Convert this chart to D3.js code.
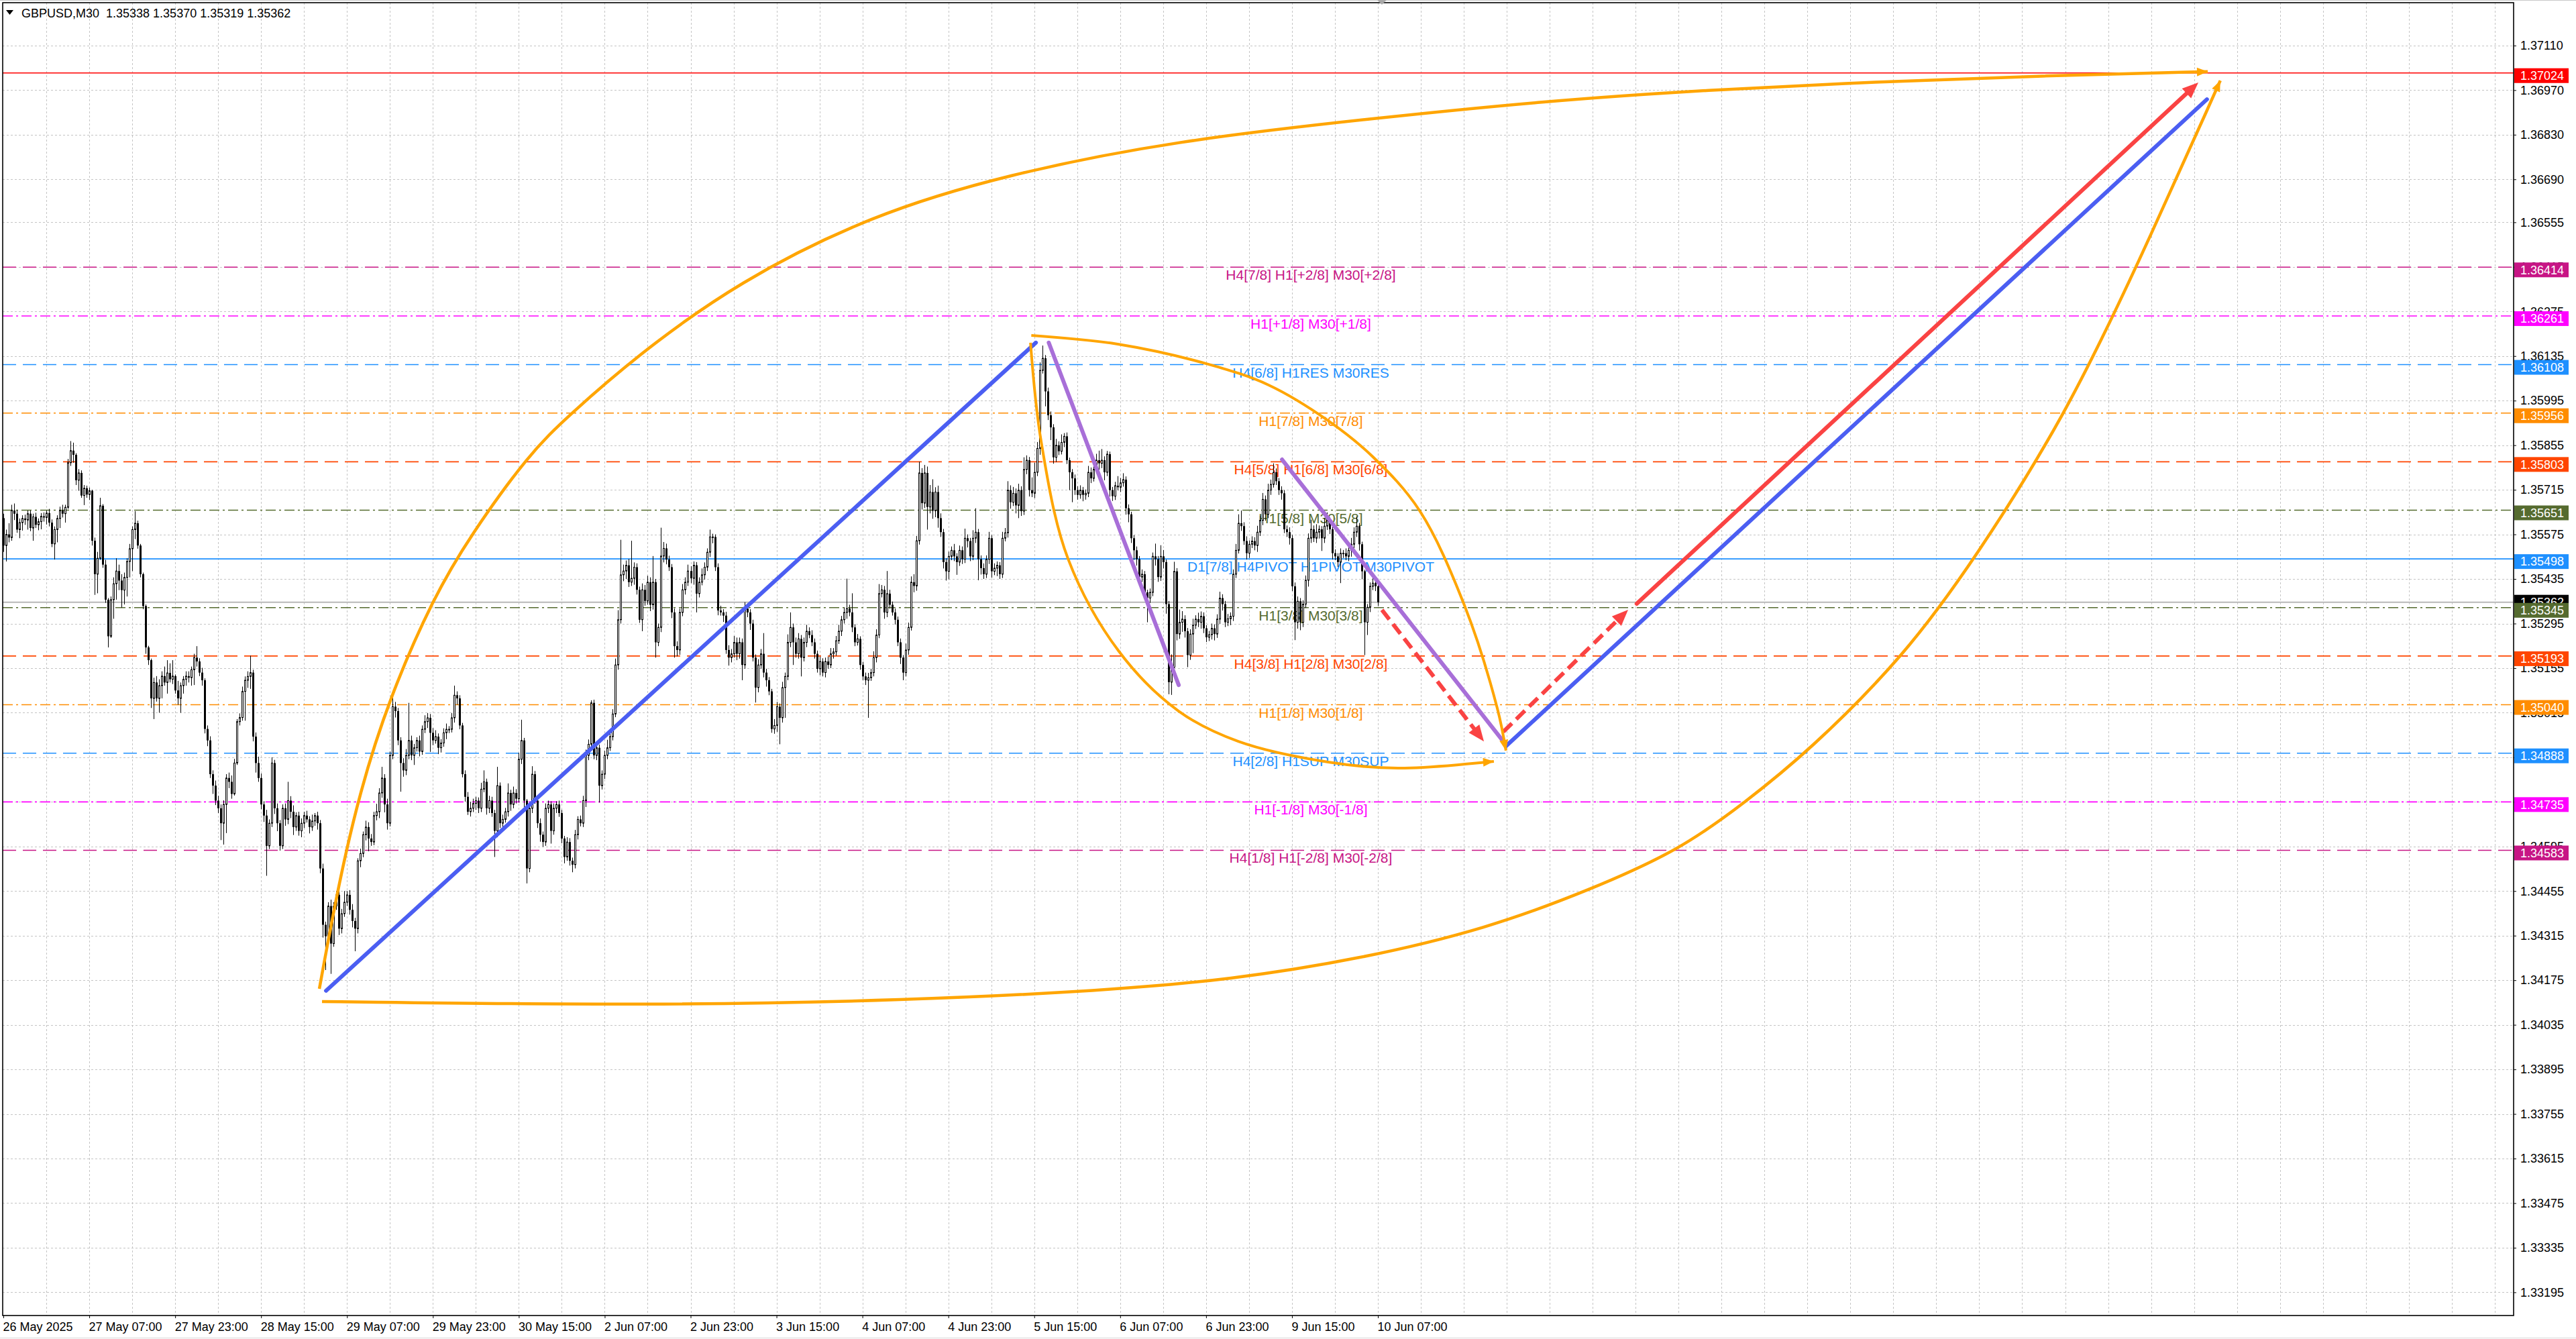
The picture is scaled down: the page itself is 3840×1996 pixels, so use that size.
<!DOCTYPE html>
<html>
<head>
<meta charset="utf-8">
<script src="https://cdn.jsdelivr.net/npm/d3@7"></script>
<style>
html,body{margin:0;padding:0;background:#fff;}
svg{display:block;}
text{font-family:"Liberation Sans",Arial,sans-serif;}
</style>
</head>
<body>
<script>
const WIDTH = 3840, HEIGHT = 1996;
const LEFT = 4, TOP = 4, RIGHT = 3747, BOTTOM = 1961;

// prices are kept in points (0.00001) above 1.3
const PRICE_BASE = 1.3, POINT = 0.00001;
const toPrice = v => PRICE_BASE + v * POINT;

const symbolTitle = 'GBPUSD,M30  1.35338 1.35370 1.35319 1.35362';
const lastPrice = 1.35362;
const firstOpen = 5626;

// M30 closes, one per bar (26 May 15:00 ... 10 Jun 07:00)
const closes = [
  5540,5575,5565,5650,5640,5590,5612,5625,5620,5640,5595,5630,5605,5615,5632,5628,
  5642,5612,5545,5590,5625,5650,5640,5660,5800,5838,5825,5745,5768,5697,5720,5700,
  5712,5555,5450,5500,5665,5480,5370,5255,5370,5420,5460,5430,5400,5440,5490,5530,
  5590,5610,5540,5450,5350,5220,5180,5060,5110,5060,5100,5130,5110,5140,5120,5130,
  5085,5060,5100,5120,5130,5125,5150,5188,5176,5141,5117,4964,4928,4822,4786,4739,
  4715,4668,4727,4810,4798,4760,4857,4987,5000,5082,5117,5129,5141,4940,4857,4810,
  4727,4692,4597,4668,4857,4715,4668,4597,4715,4680,4739,4704,4656,4692,4644,4668,
  4692,4680,4656,4675,4692,4668,4526,4349,4313,4408,4290,4408,4443,4337,4384,4420,
  4443,4396,4361,4337,4550,4573,4632,4656,4620,4609,4692,4704,4763,4810,4727,4668,
  4881,5034,5020,4928,4857,4834,4881,4928,4881,4905,4928,4893,4963,4987,4999,4952,
  4928,4940,4905,4920,4952,4963,4963,4999,5070,5060,4975,4822,4751,4704,4715,4730,
  4739,4715,4775,4798,4715,4739,4700,4644,4786,4668,4680,4704,4763,4727,4763,4745,
  4869,4928,4739,4526,4715,4822,4739,4668,4632,4609,4715,4727,4644,4715,4727,4700,
  4620,4562,4609,4550,4538,4632,4680,4668,4739,4881,4916,5046,4881,4905,4786,4822,
  4881,4905,4940,5011,5165,5307,5448,5460,5478,5425,5437,5472,5401,5307,5401,5366,
  5425,5354,5425,5236,5283,5507,5531,5496,5472,5330,5224,5212,5330,5401,5425,5460,
  5437,5478,5389,5425,5448,5472,5519,5567,5567,5472,5336,5330,5320,5212,5188,5200,
  5236,5200,5236,5165,5342,5330,5295,5188,5094,5165,5200,5141,5117,5082,4964,4975,
  5034,4999,5094,5129,5236,5283,5236,5200,5247,5188,5236,5271,5259,5236,5200,5153,
  5176,5141,5176,5165,5200,5206,5241,5271,5307,5330,5342,5330,5283,5236,5247,5165,
  5129,5117,5125,5141,5188,5259,5389,5401,5330,5389,5354,5330,5307,5236,5188,5141,
  5212,5283,5425,5413,5555,5768,5673,5768,5661,5708,5649,5708,5626,5582,5488,5459,
  5506,5525,5506,5488,5525,5497,5563,5554,5506,5563,5582,5497,5469,5450,5497,5563,
  5459,5469,5478,5450,5563,5580,5714,5676,5704,5666,5714,5648,5779,5808,5714,5704,
  5770,5845,6090,6128,6024,5949,5911,5817,5855,5836,5864,5883,5808,5770,5751,5714,
  5699,5714,5699,5704,5770,5751,5779,5808,5798,5808,5770,5827,5714,5695,5728,5723,
  5737,5747,5657,5638,5563,5525,5497,5441,5450,5393,5375,5393,5506,5497,5441,5506,
  5488,5356,5111,5158,5459,5262,5299,5309,5271,5196,5262,5290,5309,5299,5318,5280,
  5252,5260,5280,5262,5309,5375,5356,5299,5310,5318,5450,5525,5610,5601,5554,5516,
  5544,5554,5540,5582,5619,5685,5638,5714,5732,5770,5742,5714,5704,5591,5582,5563,
  5412,5299,5365,5299,5356,5431,5563,5591,5563,5582,5591,5563,5601,5619,5591,5516,
  5506,5488,5516,5516,5506,5525,5544,5582,5601,5544,5459,5299,5346,5412,5422,5412,
  5362
];

// upper and lower shadow length of each bar, in points
const wickUp = [
  14,15,35,18,22,12,13,10,12,10,10,10,13,10,10,12,
  8,13,10,10,10,12,18,8,12,30,25,5,12,8,10,8,
  10,3,10,20,25,5,15,5,10,20,40,20,20,15,10,15,
  10,38,8,5,5,5,5,5,15,20,20,15,30,40,30,50,
  5,30,10,10,15,15,10,12,36,10,15,6,11,13,12,16,
  15,12,13,12,17,20,13,8,13,15,12,16,53,9,13,20,
  14,10,18,12,18,10,15,10,12,15,59,14,20,10,12,15,
  12,15,10,20,8,12,10,15,10,12,20,12,12,20,15,35,
  12,15,18,10,8,15,10,20,15,14,12,25,15,35,12,18,
  12,36,15,10,10,15,20,118,15,12,10,15,12,20,15,12,
  15,20,10,12,14,18,10,15,30,12,10,8,12,15,20,15,
  12,10,20,36,10,15,12,10,59,10,15,12,30,10,20,12,
  20,65,8,5,10,25,10,12,15,10,15,12,10,15,10,12,
  10,8,15,12,10,15,10,12,15,18,15,8,10,20,10,12,
  15,25,12,15,20,30,110,20,15,20,118,15,12,10,20,15,
  20,15,82,10,12,89,20,15,12,10,12,15,12,18,15,20,
  15,12,10,15,20,15,12,23,10,8,12,15,10,12,15,15,
  20,15,15,12,20,15,10,12,10,18,15,65,12,10,8,20,
  15,10,18,12,25,47,12,15,18,12,15,20,12,15,12,10,
  15,10,12,15,18,12,15,20,12,15,94,12,60,10,15,8,
  10,12,15,12,20,18,30,15,12,71,12,10,12,10,12,8,
  20,15,18,25,15,35,15,25,20,22,40,15,20,15,10,12,
  15,12,20,10,15,12,30,12,10,25,75,10,12,15,12,20,
  10,15,12,10,20,15,28,15,20,15,20,12,38,15,10,40,
  30,20,25,40,10,12,12,10,20,12,25,10,12,8,10,12,
  12,15,10,12,20,15,25,20,30,35,12,10,8,10,12,30,
  15,20,10,12,8,10,12,10,15,10,8,12,12,40,10,35,
  20,8,10,40,30,10,40,25,12,10,15,20,12,20,15,12,
  10,12,15,12,15,20,12,10,15,12,15,20,28,40,12,15,
  12,15,12,20,15,20,12,20,15,28,12,10,12,10,12,15,
  10,12,15,10,12,15,15,30,12,25,12,10,25,25,10,8,
  12,10,15,10,15,12,20,15,30,10,8,5,10,12,20,15,
  10
];
const wickDn = [
  20,50,15,10,20,10,27,25,15,30,10,40,10,17,24,13,
  22,12,10,49,40,30,12,28,5,10,25,15,33,7,30,10,
  17,15,65,60,5,10,10,35,5,60,50,30,55,45,60,50,
  70,30,10,10,10,20,15,30,65,10,45,40,10,35,10,15,
  10,20,45,25,20,15,25,48,16,11,17,14,18,12,26,14,
  15,53,67,90,20,15,5,6,12,10,92,24,39,15,30,12,
  15,20,94,10,12,18,25,15,10,20,15,20,25,12,15,20,
  15,10,20,12,15,20,15,40,106,20,95,10,12,20,15,10,
  12,15,20,71,15,20,12,18,40,12,10,15,20,15,25,20,
  10,12,20,15,90,20,15,12,15,30,12,15,10,12,20,60,
  15,10,20,15,12,20,12,10,15,20,12,10,15,10,15,12,
  20,15,12,10,20,15,12,82,20,15,12,10,15,20,12,15,
  12,15,20,47,12,15,10,15,22,15,12,15,40,12,15,12,
  15,20,12,15,24,12,15,10,12,20,15,12,12,15,53,12,
  15,12,10,12,10,15,12,20,25,15,12,20,15,10,36,15,
  12,20,15,48,12,15,20,15,12,18,36,20,15,12,15,12,
  15,20,59,12,10,15,12,15,20,12,15,10,20,12,25,15,
  12,20,15,48,12,15,20,12,47,15,12,15,20,12,12,15,
  20,83,15,95,12,15,71,12,15,59,12,15,10,12,15,12,
  20,12,15,12,10,15,12,10,15,12,20,12,15,12,10,15,
  12,15,118,10,12,15,10,12,20,15,12,10,15,12,20,24,
  12,15,10,20,15,12,20,15,71,20,25,20,30,15,20,29,
  25,12,15,40,12,15,12,20,15,12,15,66,20,15,12,15,
  20,12,25,15,12,10,15,20,12,25,40,15,12,15,20,12,
  15,12,20,10,47,15,40,20,15,12,10,15,12,56,75,15,
  15,12,20,15,12,15,10,12,20,15,25,12,20,15,12,10,
  15,12,20,25,15,30,20,25,15,20,76,15,12,20,15,12,
  20,30,38,40,15,20,15,30,20,38,15,60,12,15,20,15,
  15,12,15,20,12,15,20,15,12,20,15,12,10,15,12,20,
  15,12,15,20,12,15,20,12,15,10,12,15,20,12,15,20,
  15,56,20,25,15,12,20,15,12,15,20,40,15,12,15,20,
  12,15,66,15,12,15,20,12,15,20,25,103,40,15,12,15,
  12
];

const priceTicks = [1.37110,1.36970,1.36830,1.36690,1.36555,1.36415,1.36275,1.36135,1.35995,1.35855,
  1.35715,1.35575,1.35435,1.35295,1.35155,1.35015,1.34875,1.34735,1.34595,1.34455,1.34315,1.34175,
  1.34035,1.33895,1.33755,1.33615,1.33475,1.33335,1.33195];

const timeLabels = ['26 May 2025','27 May 07:00','27 May 23:00','28 May 15:00','29 May 07:00','29 May 23:00',
  '30 May 15:00','2 Jun 07:00','2 Jun 23:00','3 Jun 15:00','4 Jun 07:00','4 Jun 23:00','5 Jun 15:00',
  '6 Jun 07:00','6 Jun 23:00','9 Jun 15:00','10 Jun 07:00'];
const timeLabelBars = [0,32,64,96,128,160,192,224,256,288,320,352,384,416,448,480,512];

// Murrey math levels
const levelPrices = [1.37024,1.36414,1.36261,1.36108,1.35956,1.35803,1.35651,1.35498,1.35345,1.35193,1.35040,1.34888,1.34735,1.34583];
const levelTexts = ['','H4[7/8] H1[+2/8] M30[+2/8]','H1[+1/8] M30[+1/8]','H4[6/8] H1RES M30RES','H1[7/8] M30[7/8]',
  'H4[5/8] H1[6/8] M30[6/8]','H1[5/8] M30[5/8]','D1[7/8] H4PIVOT H1PIVOT M30PIVOT','H1[3/8] M30[3/8]',
  'H4[3/8] H1[2/8] M30[2/8]','H1[1/8] M30[1/8]','H4[2/8] H1SUP M30SUP','H1[-1/8] M30[-1/8]','H4[1/8] H1[-2/8] M30[-2/8]'];
const levelStyles = [
  {c:'#ff0000',d:null},{c:'#c71585',d:'20,10'},{c:'#ff00ff',d:'15,5,3,5'},{c:'#1e90ff',d:'20,10'},
  {c:'#ff8c00',d:'15,5,3,5'},{c:'#ff4500',d:'20,10'},{c:'#556b2f',d:'15,5,3,5'},{c:'#1e90ff',d:null},
  {c:'#556b2f',d:'15,5,3,5'},{c:'#ff4500',d:'20,10'},{c:'#ff8c00',d:'15,5,3,5'},{c:'#1e90ff',d:'20,10'},
  {c:'#ff00ff',d:'15,5,3,5'},{c:'#c71585',d:'20,10'}];

// drawn objects: bar index (future bars beyond 512) and price
const blueLines = [
  [{i:120.2,p:1.34142},{i:384.6,p:1.36177}],
  [{i:559.7,p:1.34910},{i:820.8,p:1.36941}]
];
const purpleLines = [
  [{i:389.4,p:1.36177},{i:437.8,p:1.35102}],
  [{i:476.3,p:1.35810},{i:558.7,p:1.34925}]
];
const redDashed = [
  [{i:513.5,p:1.35338},{i:551.5,p:1.34925}],
  [{i:558.7,p:1.34955},{i:605.2,p:1.35338}]
];
const redSolid = [{i:608.4,p:1.35357},{i:817.6,p:1.36994}];

const arcTop = [{i:117.7,p:1.34148},{i:124.7,p:1.34470},{i:132.7,p:1.34765},{i:143.7,p:1.35060},{i:160.4,p:1.35380},
  {i:173.7,p:1.35568},{i:195.9,p:1.35829},{i:210.4,p:1.35947},{i:236.1,p:1.36137},{i:273.6,p:1.36368},
  {i:323.6,p:1.36579},{i:373.6,p:1.36705},{i:436.0,p:1.36811},{i:511.0,p:1.36882},{i:573.2,p:1.36935},
  {i:635.2,p:1.36971},{i:697.4,p:1.36996},{i:759.6,p:1.37015},{i:821.1,p:1.37028}];
const arcBottom = [{i:118.7,p:1.34108},{i:242.1,p:1.34095},{i:337.8,p:1.34112},{i:409.5,p:1.34142},{i:457.3,p:1.34177},
  {i:505.0,p:1.34241},{i:552.7,p:1.34337},{i:590.9,p:1.34458},{i:624.5,p:1.34584},{i:648.4,p:1.34731},
  {i:672.5,p:1.34894},{i:707.9,p:1.35191},{i:734.6,p:1.35500},{i:767.9,p:1.35945},{i:794.8,p:1.36417},
  {i:825.8,p:1.37000}];
const arcSmallUpper = [{i:382.9,p:1.36200},{i:415.5,p:1.36172},{i:449.0,p:1.36109},{i:471.3,p:1.36044},{i:493.5,p:1.35932},
  {i:510.2,p:1.35818},{i:527.5,p:1.35650},{i:544.2,p:1.35353},{i:556.5,p:1.35028},{i:559.7,p:1.34896}];
const arcSmallLower = [{i:382.6,p:1.36177},{i:386.6,p:1.35865},{i:396.6,p:1.35498},{i:415.5,p:1.35208},{i:437.8,p:1.35020},
  {i:460.0,p:1.34925},{i:493.5,p:1.34860},{i:519.5,p:1.34841},{i:555.2,p:1.34862}];

const BLUE = '#4b5ef2', PURPLE = '#a86fd8', RED = '#fa4343', ORANGE = '#ffa500';

var xScale, yScale, svg;

var createSvg = function(){
  svg = d3.select('body').append('svg').attr('width', WIDTH).attr('height', HEIGHT);
  svg.append('rect').attr('width', WIDTH).attr('height', HEIGHT).attr('fill', '#fff');
  svg.append('line').attr('x1',0).attr('x2',WIDTH).attr('y1',0.5).attr('y2',0.5).attr('stroke','#c8c8c8');
  svg.append('line').attr('x1',0).attr('x2',WIDTH).attr('y1',1994.5).attr('y2',1994.5).attr('stroke','#d8d8d8');

  xScale = d3.scaleLinear().domain([0, 512]).range([5, 2054]);
  yScale = d3.scaleLinear().domain([1.33195, 1.37110]).range([1926.4, 67.9]);
};

var drawGrid = function(){
  var grid = svg.append('g').attr('stroke', '#c4c4c4').attr('stroke-width', 1).attr('stroke-dasharray', '3,3');
  var maxBar = Math.floor(xScale.invert(RIGHT));
  grid.selectAll('line.v').data(d3.range(16, maxBar + 1, 16)).enter().append('line')
    .attr('x1', d => Math.round(xScale(d)) + 0.5).attr('x2', d => Math.round(xScale(d)) + 0.5)
    .attr('y1', TOP).attr('y2', BOTTOM);
  grid.selectAll('line.h').data(priceTicks).enter().append('line')
    .attr('x1', LEFT).attr('x2', RIGHT)
    .attr('y1', d => Math.round(yScale(d)) + 0.5).attr('y2', d => Math.round(yScale(d)) + 0.5);
};

var drawLevels = function(){
  var g = svg.append('g');
  g.append('line').attr('x1', LEFT).attr('x2', RIGHT)
    .attr('y1', yScale(lastPrice)).attr('y2', yScale(lastPrice))
    .attr('stroke', '#b8b8b8').attr('stroke-width', 2);
  levelPrices.forEach(function(p, k){
    var st = levelStyles[k];
    g.append('line').attr('x1', LEFT).attr('x2', RIGHT)
      .attr('y1', yScale(p)).attr('y2', yScale(p))
      .attr('stroke', st.c).attr('stroke-width', 1.6)
      .attr('stroke-dasharray', st.d);
    if (levelTexts[k]) {
      g.append('text').attr('x', 1954).attr('y', yScale(p) + 19)
        .attr('text-anchor', 'middle').attr('font-size', 21).attr('fill', st.c)
        .text(levelTexts[k]);
    }
  });
};

var drawCandles = function(){
  var bars = closes.map(function(c, i){
    var o = i === 0 ? firstOpen : closes[i - 1];
    return {i: i, o: toPrice(o), c: toPrice(c),
      h: toPrice(Math.max(o, c) + wickUp[i]), l: toPrice(Math.min(o, c) - wickDn[i])};
  });
  var g = svg.append('g');
  var cx = d => Math.round(xScale(d.i));
  g.selectAll('line').data(bars).enter().append('line')
    .attr('x1', d => cx(d) + 0.5).attr('x2', d => cx(d) + 0.5)
    .attr('y1', d => yScale(d.h)).attr('y2', d => yScale(d.l))
    .attr('stroke', '#000').attr('stroke-width', 1);
  g.selectAll('rect').data(bars).enter().append('rect')
    .attr('x', d => d.c >= d.o ? cx(d) - 0.5 : cx(d) - 1)
    .attr('width', d => d.c >= d.o ? 2 : 3)
    .attr('y', d => yScale(Math.max(d.o, d.c)))
    .attr('height', d => Math.max(1, Math.abs(yScale(d.o) - yScale(d.c))))
    .attr('fill', d => d.c >= d.o ? '#fff' : '#000')
    .attr('stroke', d => d.c >= d.o ? '#000' : 'none')
    .attr('stroke-width', 1);
};

var screen = d => [xScale(d.i), yScale(d.p)];

var arrowHead = function(g, a, b, len, half, color){
  var ang = Math.atan2(b[1] - a[1], b[0] - a[0]);
  var bx = b[0] - len * Math.cos(ang), by = b[1] - len * Math.sin(ang);
  var pts = [b, [bx + half * Math.sin(ang), by - half * Math.cos(ang)], [bx - half * Math.sin(ang), by + half * Math.cos(ang)]];
  g.append('polygon').attr('points', pts.map(p => p.join(',')).join(' ')).attr('fill', color);
  return [bx + 2 * Math.cos(ang), by + 2 * Math.sin(ang)];
};

var drawObjects = function(){
  var g = svg.append('g').attr('fill', 'none');
  var straight = d3.line().x(d => xScale(d.i)).y(d => yScale(d.p));
  var smooth = d3.line().x(d => xScale(d.i)).y(d => yScale(d.p)).curve(d3.curveBasis);
  var curved = d3.line().x(d => xScale(d.i)).y(d => yScale(d.p)).curve(d3.curveCatmullRom.alpha(0.5));

  purpleLines.forEach(function(seg){
    g.append('path').attr('d', straight(seg)).attr('stroke', PURPLE).attr('stroke-width', 6).attr('stroke-linecap', 'round');
  });
  blueLines.forEach(function(seg){
    g.append('path').attr('d', straight(seg)).attr('stroke', BLUE).attr('stroke-width', 6).attr('stroke-linecap', 'round');
  });

  var arrows = svg.append('g');
  redDashed.forEach(function(seg){
    var a = screen(seg[0]), b = screen(seg[1]);
    var base = arrowHead(arrows, a, b, 24, 10, RED);
    g.append('line').attr('x1', a[0]).attr('y1', a[1]).attr('x2', base[0]).attr('y2', base[1])
      .attr('stroke', RED).attr('stroke-width', 6).attr('stroke-dasharray', '18,9');
  });
  var ra = screen(redSolid[0]), rb = screen(redSolid[1]);
  var rbase = arrowHead(arrows, ra, rb, 24, 10, RED);
  g.append('line').attr('x1', ra[0]).attr('y1', ra[1]).attr('x2', rbase[0]).attr('y2', rbase[1])
    .attr('stroke', RED).attr('stroke-width', 6).attr('stroke-linecap', 'round');

  [arcTop, arcBottom, arcSmallUpper, arcSmallLower].forEach(function(arc, k){
    var gen = k < 2 ? smooth : curved;
    g.append('path').attr('d', gen(arc)).attr('stroke', ORANGE).attr('stroke-width', k < 2 ? 4.5 : 4);
    var n = arc.length;
    var tip = screen(arc[n - 1]), prev = screen(arc[n - 2]);
    var a = [tip[0] - (tip[0] - prev[0]) * 0.15, tip[1] - (tip[1] - prev[1]) * 0.15];
    arrowHead(arrows, a, tip, 16, 6.5, ORANGE);
  });
};

var drawFrame = function(){
  svg.append('rect').attr('x', LEFT).attr('y', TOP).attr('width', RIGHT - LEFT).attr('height', BOTTOM - TOP)
    .attr('fill', 'none').attr('stroke', '#000').attr('stroke-width', 1.6);
  // chart shift marker
  var sx = xScale(512) + 6;
  svg.append('polygon').attr('points', [[sx - 7, 0], [sx + 7, 0], [sx, 7]].map(p => p.join(',')).join(' ')).attr('fill', '#a8a8a8');
};

var drawAxes = function(){
  var yAxis = d3.axisRight(yScale).tickValues(priceTicks).tickFormat(d3.format('.5f')).tickSize(4).tickPadding(6);
  svg.append('g').attr('transform', 'translate(' + RIGHT + ',0)').call(yAxis)
    .call(g => g.select('.domain').remove())
    .call(g => g.selectAll('text').attr('font-size', 18).attr('fill', '#000').attr('font-family', '"Liberation Sans",Arial,sans-serif'));

  var xAxis = d3.axisBottom(xScale).tickValues(timeLabelBars).tickFormat((d, i) => timeLabels[i]).tickSize(4).tickPadding(6);
  svg.append('g').attr('transform', 'translate(0,' + BOTTOM + ')').call(xAxis)
    .call(g => g.select('.domain').remove())
    .call(g => g.selectAll('text').attr('font-size', 18).attr('fill', '#000').attr('text-anchor', 'start')
      .attr('font-family', '"Liberation Sans",Arial,sans-serif').attr('dx', -1));

  // value boxes on the price scale
  var boxes = svg.append('g');
  var box = function(p, color, off){
    var y = yScale(p) + off;
    boxes.append('rect').attr('x', RIGHT + 1).attr('y', y - 11).attr('width', 81).attr('height', 22).attr('fill', color);
    boxes.append('text').attr('x', RIGHT + 10).attr('y', y).attr('dy', '0.35em').attr('font-size', 18).attr('fill', '#fff')
      .text(d3.format('.5f')(p));
  };
  box(lastPrice, '#000', 0);
  levelPrices.forEach((p, k) => box(p, levelStyles[k].c, 4));
};

var drawTitle = function(){
  svg.append('polygon').attr('points', '9,15 20,15 14.5,22').attr('fill', '#000');
  svg.append('text').attr('x', 32).attr('y', 26).attr('font-size', 18).attr('fill', '#000')
    .style('white-space', 'pre').text(symbolTitle);
};

createSvg();
drawGrid();
drawLevels();
drawCandles();
drawObjects();
drawFrame();
drawAxes();
drawTitle();
</script>
</body>
</html>
